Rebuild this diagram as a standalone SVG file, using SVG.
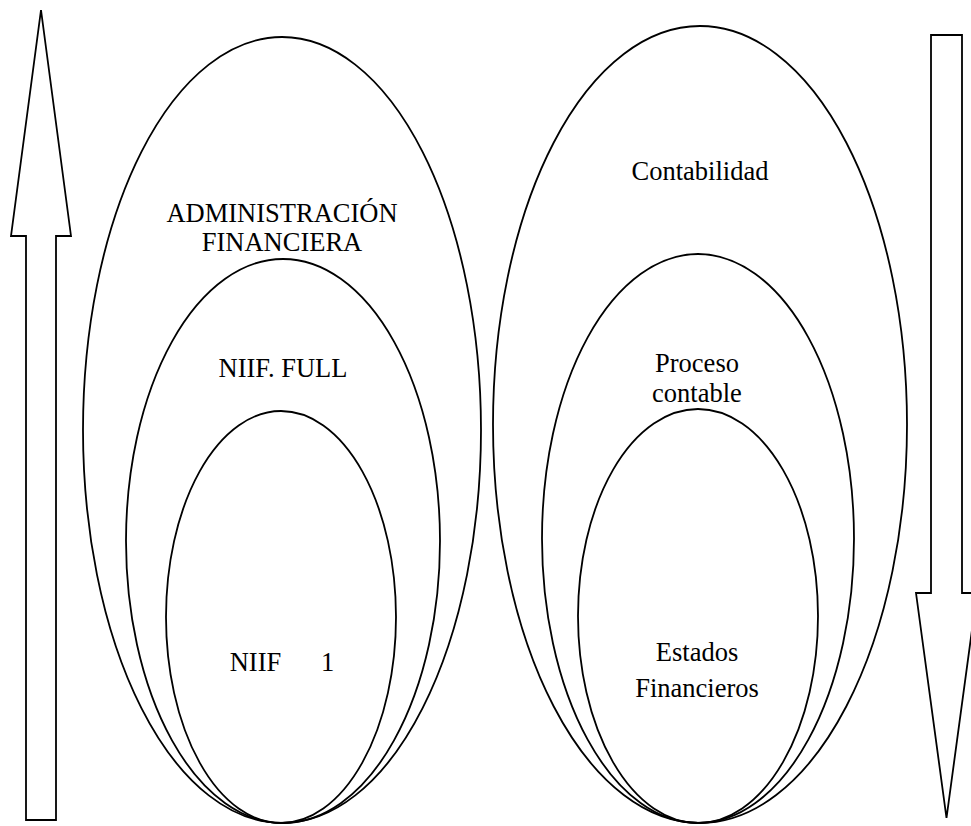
<svg xmlns="http://www.w3.org/2000/svg" width="971" height="826" viewBox="0 0 971 826">
  <style>
    .shape { fill: none; stroke: #000; stroke-width: 1.8; }
    .arrow { fill: #fff; stroke: #000; stroke-width: 1.8; stroke-linejoin: miter; }
    text { font-family: 'Liberation Serif', 'DejaVu Serif', serif; font-size: 26.5px; fill: #000; text-anchor: middle; }
  </style>
  <rect width="971" height="826" fill="#fff"/>

  <!-- vertical arrows at both sides -->
  <g id="connectors">
    <polygon id="arrow-up" class="arrow" points="41,10 71,236 56,236 56,820 26,820 26,236 11,236"/>
    <polygon id="arrow-down" class="arrow" points="931,35 962,35 962,593 977,593 946.5,818 916,593 931,593"/>
  </g>

  <g font-family="Liberation Serif, DejaVu Serif, serif">
    <!-- left set of nested ellipses -->
    <g id="administracion-financiera">
      <ellipse class="shape" cx="282" cy="430" rx="199" ry="393"/>
      <text x="282" y="222">ADMINISTRACIÓN</text>
      <text x="282" y="251">FINANCIERA</text>
    </g>
    <g id="niif-full">
      <ellipse class="shape" cx="283" cy="541" rx="157" ry="282"/>
      <text x="283" y="377">NIIF. FULL</text>
    </g>
    <g id="niif-1">
      <ellipse class="shape" cx="281" cy="617" rx="115" ry="206"/>
      <text x="282" y="671" xml:space="preserve">NIIF      1</text>
    </g>

    <!-- right set of nested ellipses -->
    <g id="contabilidad">
      <ellipse class="shape" cx="700" cy="424.5" rx="207" ry="398.5"/>
      <text x="700" y="180">Contabilidad</text>
    </g>
    <g id="proceso-contable">
      <ellipse class="shape" cx="698" cy="538.5" rx="156" ry="284.5"/>
      <text x="697" y="372">Proceso</text>
      <text x="697" y="402">contable</text>
    </g>
    <g id="estados-financieros">
      <ellipse class="shape" cx="698" cy="616" rx="120" ry="207"/>
      <text x="697" y="661">Estados</text>
      <text x="697" y="697">Financieros</text>
    </g>
  </g>
</svg>
